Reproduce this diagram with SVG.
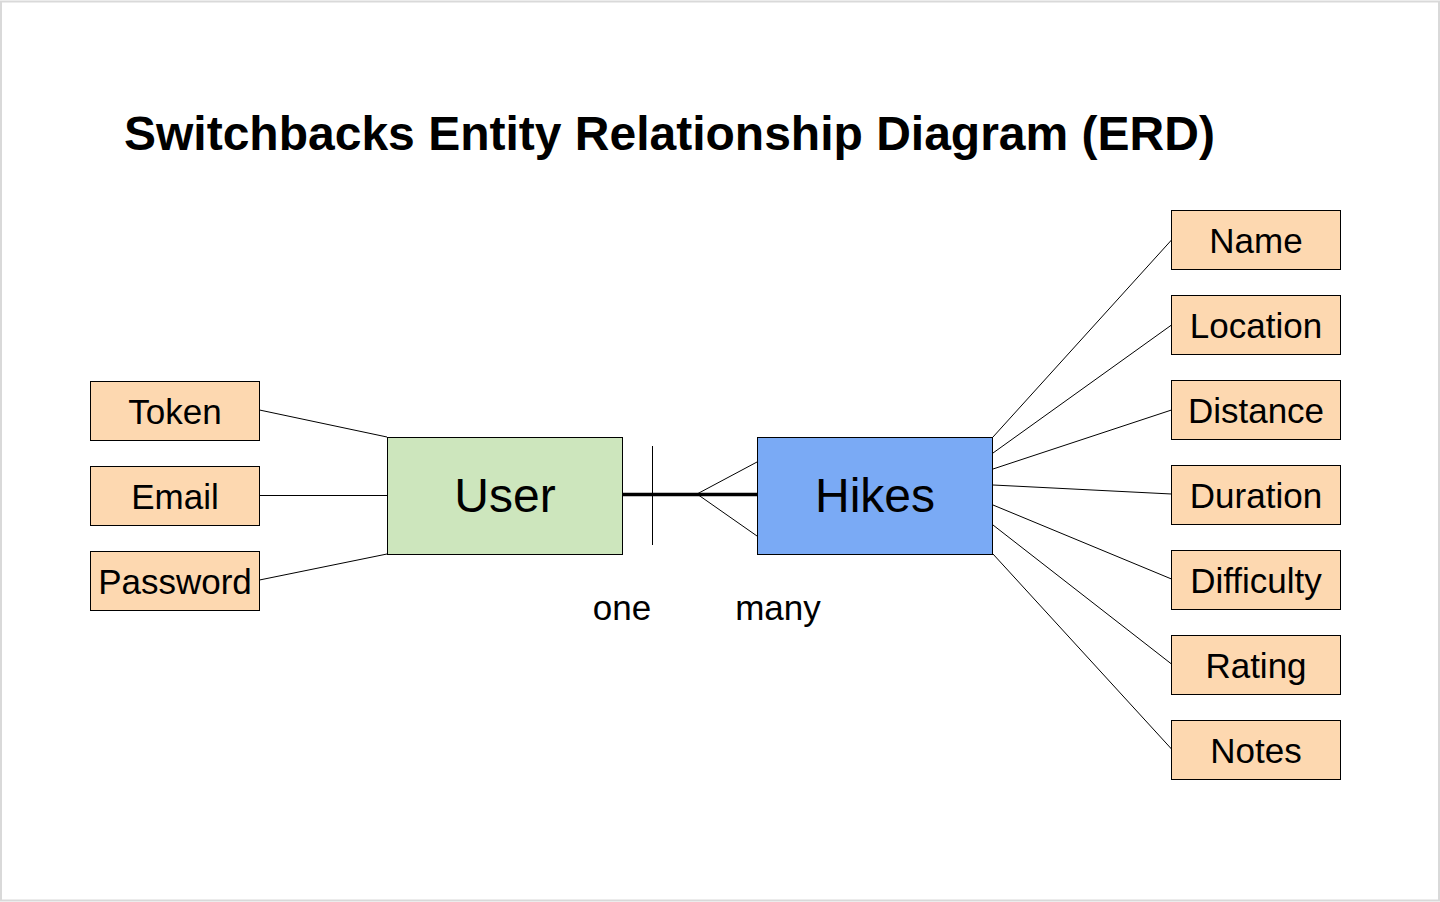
<svg xmlns="http://www.w3.org/2000/svg" width="1440" height="902" viewBox="0 0 1440 902">
<style>
.attr rect{fill:#fdd8b0;stroke:#000;stroke-width:1}
.attr text{font-family:"Liberation Sans",Arial,sans-serif;font-size:35px;fill:#000;text-anchor:middle}
.ent text{font-family:"Liberation Sans",Arial,sans-serif;font-size:48px;fill:#000;text-anchor:middle}
.ent rect{stroke:#000;stroke-width:1}
.conn line{stroke:#000;stroke-width:1}
.lbl{font-family:"Liberation Sans",Arial,sans-serif;font-size:35px;fill:#000;text-anchor:middle}
</style>
<rect x="0" y="0" width="1440" height="902" fill="#fff"/>
<rect x="1" y="1.5" width="1438" height="899" fill="none" stroke="#d9d9d9" stroke-width="2"/>
<text x="124" y="150" font-family="'Liberation Sans',Arial,sans-serif" font-size="48" font-weight="bold" fill="#000">Switchbacks Entity Relationship Diagram (ERD)</text>
<g id="connectors" class="conn">
<line x1="259.5" y1="410" x2="387" y2="437"/>
<line x1="259.5" y1="495.5" x2="387" y2="495.5"/>
<line x1="259.5" y1="580" x2="387" y2="554"/>
<line x1="993" y1="437" x2="1171.5" y2="240"/>
<line x1="993" y1="453" x2="1171.5" y2="325"/>
<line x1="993" y1="469" x2="1171.5" y2="410"/>
<line x1="993" y1="485" x2="1171.5" y2="494"/>
<line x1="993" y1="505" x2="1171.5" y2="579"/>
<line x1="993" y1="525" x2="1171.5" y2="664"/>
<line x1="993" y1="554" x2="1171.5" y2="749"/>
<line x1="622" y1="494.5" x2="757" y2="494.5" style="stroke-width:3.5"/>
<line x1="652.5" y1="446" x2="652.5" y2="545"/>
<line x1="697" y1="494" x2="757" y2="462"/>
<line x1="697" y1="494" x2="757" y2="536"/>
</g>
<g id="user" class="ent"><rect x="387.5" y="437.5" width="235" height="117" fill="#cde6bd"/><text x="505" y="512">User</text></g>
<g id="hikes" class="ent"><rect x="757.5" y="437.5" width="235" height="117" fill="#7aaaf5"/><text x="875" y="512">Hikes</text></g>
<g id="token" class="attr"><rect x="90.5" y="381.5" width="169" height="59"/><text x="175" y="424">Token</text></g>
<g id="email" class="attr"><rect x="90.5" y="466.5" width="169" height="59"/><text x="175" y="509">Email</text></g>
<g id="password" class="attr"><rect x="90.5" y="551.5" width="169" height="59"/><text x="175" y="594">Password</text></g>
<g id="name" class="attr"><rect x="1171.5" y="210.5" width="169" height="59"/><text x="1256" y="253">Name</text></g>
<g id="location" class="attr"><rect x="1171.5" y="295.5" width="169" height="59"/><text x="1256" y="338">Location</text></g>
<g id="distance" class="attr"><rect x="1171.5" y="380.5" width="169" height="59"/><text x="1256" y="423">Distance</text></g>
<g id="duration" class="attr"><rect x="1171.5" y="465.5" width="169" height="59"/><text x="1256" y="508">Duration</text></g>
<g id="difficulty" class="attr"><rect x="1171.5" y="550.5" width="169" height="59"/><text x="1256" y="593">Difficulty</text></g>
<g id="rating" class="attr"><rect x="1171.5" y="635.5" width="169" height="59"/><text x="1256" y="678">Rating</text></g>
<g id="notes" class="attr"><rect x="1171.5" y="720.5" width="169" height="59"/><text x="1256" y="763">Notes</text></g>
<text class="lbl" x="622" y="620">one</text>
<text class="lbl" x="778" y="620">many</text>
</svg>
